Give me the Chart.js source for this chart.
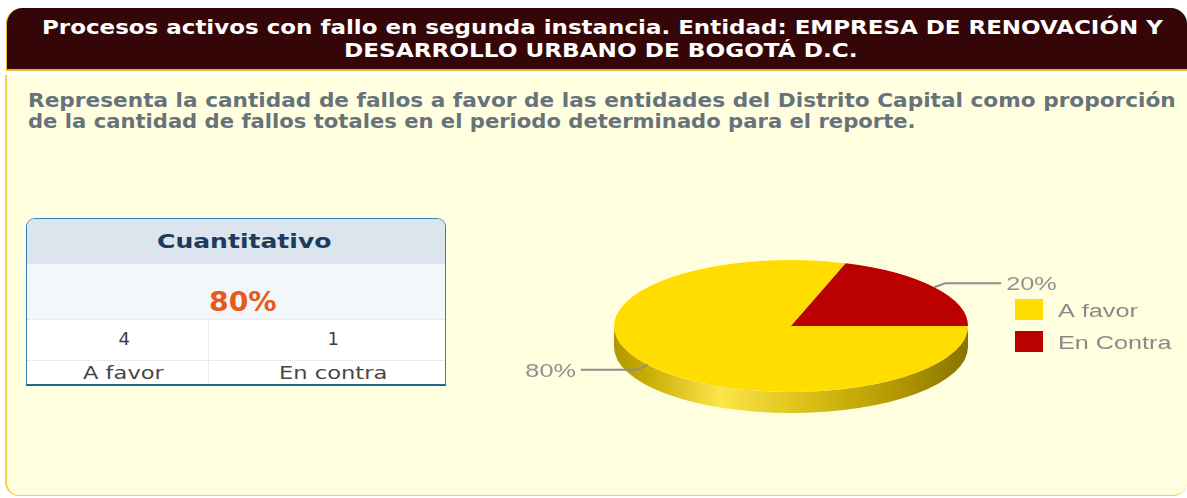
<!DOCTYPE html>
<html>
<head>
<meta charset="utf-8">
<script src="https://cdn.jsdelivr.net/npm/chart.js@4.4.1/dist/chart.umd.min.js"></script>
<style>
html,body{margin:0;padding:0;background:#fff;width:1187px;height:498px;overflow:hidden;position:relative;font-family:"DejaVu Sans",Verdana,sans-serif;}
#hdr{position:absolute;left:6px;top:8px;width:1179.5px;height:61px;background:#350608;border-top-left-radius:16px;border-top-right-radius:16px;border-left:1.5px solid #e9b92a;border-bottom:2px solid #e9b92a;}
#bdy{position:absolute;left:5px;top:75px;width:1180px;height:420px;background:#ffffe0;border-bottom-left-radius:14px;border-bottom-right-radius:14px;border-left:2px solid #f6cf48;border-bottom:1.5px solid #f6cf48;}
#tbl{position:absolute;left:26px;top:218px;width:418px;height:165px;border:1.5px solid #2f80b8;border-bottom:2px solid #1f6a9c;border-top-left-radius:9px;border-top-right-radius:9px;overflow:hidden;background:#fff;}
#tbl .r{position:absolute;left:0;width:100%;}
.t{position:absolute;white-space:nowrap;line-height:1;transform-origin:0 0;}
#pie{position:absolute;left:400px;top:200px;}
</style>
</head>
<body>
<div id="hdr"></div>
<div id="bdy"></div>
<div id="tbl">
  <div class="r" style="top:0;height:45px;background:#dce4ed;"></div>
  <div class="r" style="top:45px;height:55px;background:#f3f7f9;"></div>
  <div class="r" style="top:100px;height:0;border-top:1.5px dotted #d8d8d8;"></div>
  <div class="r" style="top:141px;height:0;border-top:1.5px dotted #d8d8d8;"></div>
  <div style="position:absolute;left:181px;top:100px;height:70px;border-left:1.5px dotted #d8d8d8;"></div>
</div>
<canvas id="pie" width="787" height="260"></canvas>
<script>
// ---- data ----
const categories = ['A favor', 'En Contra'];
const values = [4, 1];
const sliceColors = ['#FFDD00', '#BB0000'];
const tableLabels = ['A favor', 'En contra'];
const titleLines = ['Procesos activos con fallo en segunda instancia. Entidad: EMPRESA DE RENOVACIÓN Y', 'DESARROLLO URBANO DE BOGOTÁ D.C.'];
const descLines = ['Representa la cantidad de fallos a favor de las entidades del Distrito Capital como proporción', 'de la cantidad de fallos totales en el periodo determinado para el reporte.'];
const tableTitle = 'Cuantitativo';

const total = values.reduce((a, b) => a + b, 0);
const pct = values.map(v => Math.round(v / total * 100) + '%');

// ---- text placement helper ----
function put(text, o) {
  const s = document.createElement('div');
  s.className = 't';
  s.textContent = text;
  s.style.fontSize = o.f + 'px';
  s.style.fontWeight = o.b ? 'bold' : 'normal';
  s.style.color = o.c;
  if (o.ff) s.style.fontFamily = o.ff;
  document.body.appendChild(s);
  const nat = s.offsetWidth;
  let w = nat, sc = 1;
  if (o.w) { w = o.w; sc = o.w / nat; s.style.transform = 'scaleX(' + sc + ')'; }
  const left = (o.cx !== undefined) ? o.cx - w / 2 : o.l;
  s.style.left = left + 'px';
  s.style.top = (o.bl - 0.846 * o.f) + 'px';
}
put(titleLines[0], {l: 42, w: 1121, bl: 33.5, f: 20, b: true, c: '#ffffff'});
put(titleLines[1], {l: 344, w: 514, bl: 56.5, f: 20, b: true, c: '#ffffff'});
put(descLines[0], {l: 28, w: 1148, bl: 107, f: 19, b: true, c: '#67727a'});
put(descLines[1], {l: 28, w: 888, bl: 128, f: 19, b: true, c: '#67727a'});
put(tableTitle, {l: 157, w: 174, bl: 248, f: 19, b: true, c: '#1d3b5e'});
put(pct[0], {l: 209, w: 68, bl: 311, f: 27, b: true, c: '#e85a1c'});
put(String(values[0]), {cx: 124, bl: 345, f: 18, c: '#3b3b4b'});
put(String(values[1]), {cx: 333, bl: 345, f: 18, c: '#3b3b4b'});
put(tableLabels[0], {l: 83, w: 81, bl: 379, f: 17, c: '#4b4444'});
put(tableLabels[1], {l: 279, w: 109, bl: 379, f: 17, c: '#4b4444'});

// ---- 3D pie plugin ----
const K = 66 / 177;      // vertical squash
const DEPTH = 21;        // side height
const SX = 1.4;          // horizontal text stretch
const LABEL_FONT = '18px "Liberation Sans", Arial, sans-serif';

function stretchedText(ctx, txt, x, y, align) {
  ctx.save();
  ctx.translate(x, y);
  ctx.scale(SX, 1);
  ctx.textAlign = align;
  ctx.textBaseline = 'alphabetic';
  ctx.fillText(txt, 0, 0);
  ctx.restore();
}

const pie3d = {
  id: 'pie3d',
  beforeDatasetsDraw(chart) {
    const ctx = chart.ctx;
    const arcs = chart.getDatasetMeta(0).data;
    const cx = arcs[0].x, cy = arcs[0].y, r = arcs[0].outerRadius, ry = r * K;
    const gY = ctx.createLinearGradient(cx - r, 0, cx + r, 0);
    gY.addColorStop(0, '#b09700');
    gY.addColorStop(0.08, '#c6aa00');
    gY.addColorStop(0.3, '#fce548');
    gY.addColorStop(0.55, '#d9bf16');
    gY.addColorStop(0.8, '#b29800');
    gY.addColorStop(1, '#887300');
    const gR = ctx.createLinearGradient(cx - r, 0, cx + r, 0);
    gR.addColorStop(0, '#7a0000');
    gR.addColorStop(0.3, '#d02020');
    gR.addColorStop(1, '#600000');
    const grads = [gY, gR];
    arcs.forEach((arc, i) => {
      [[0, Math.PI], [2 * Math.PI, 3 * Math.PI]].forEach(([lo, hi]) => {
        const s = Math.max(arc.startAngle, lo), e = Math.min(arc.endAngle, hi);
        if (e > s) {
          ctx.beginPath();
          ctx.ellipse(cx, cy, r, ry, 0, s, e);
          ctx.ellipse(cx, cy + DEPTH, r, ry, 0, e, s, true);
          ctx.closePath();
          ctx.fillStyle = grads[i % grads.length];
          ctx.fill();
        }
      });
    });
    ctx.save();
    ctx.translate(0, cy);
    ctx.scale(1, K);
    ctx.translate(0, -cy);
  },
  afterDatasetsDraw(chart) {
    const ctx = chart.ctx;
    ctx.restore();
    const arcs = chart.getDatasetMeta(0).data;
    const cx = arcs[0].x, cy = arcs[0].y, r = arcs[0].outerRadius, ry = r * K;
    ctx.font = LABEL_FONT;
    arcs.forEach((arc, i) => {
      const mid = (arc.startAngle + arc.endAngle) / 2;
      const c = Math.cos(mid), s = Math.sin(mid);
      const px = cx + r * c, py = cy + ry * s;
      const dir = c < 0 ? -1 : 1;
      const ey = py + (s > 0 ? 5 : -4);
      const ex = px + dir * 11;
      const lx = ex + dir * 56;
      ctx.beginPath();
      ctx.moveTo(px, py);
      ctx.lineTo(ex, ey);
      ctx.lineTo(lx, ey);
      ctx.strokeStyle = '#8e8e8e';
      ctx.lineWidth = 2;
      ctx.stroke();
      ctx.fillStyle = '#929292';
      stretchedText(ctx, pct[i], lx + dir * 5, ey + 7, dir < 0 ? 'right' : 'left');
    });
    // legend
    const lgX = cx + 224, lgY = cy - 27;
    categories.forEach((name, i) => {
      const y = lgY + i * 32;
      ctx.fillStyle = sliceColors[i];
      ctx.fillRect(lgX, y, 28, 21);
      ctx.fillStyle = '#8a8a8a';
      stretchedText(ctx, name, lgX + 43, y + 18, 'left');
    });
  }
};

new Chart(document.getElementById('pie'), {
  type: 'pie',
  data: {
    labels: categories,
    datasets: [{
      data: values,
      backgroundColor: sliceColors,
      borderWidth: 0,
      radius: 177,
      clip: false
    }]
  },
  options: {
    responsive: false,
    animation: false,
    rotation: 90,
    layout: {padding: {left: 0, right: 5, top: 0, bottom: 8}},
    plugins: {legend: {display: false}, tooltip: {enabled: false}},
    events: []
  },
  plugins: [pie3d]
});
</script>
</body>
</html>
